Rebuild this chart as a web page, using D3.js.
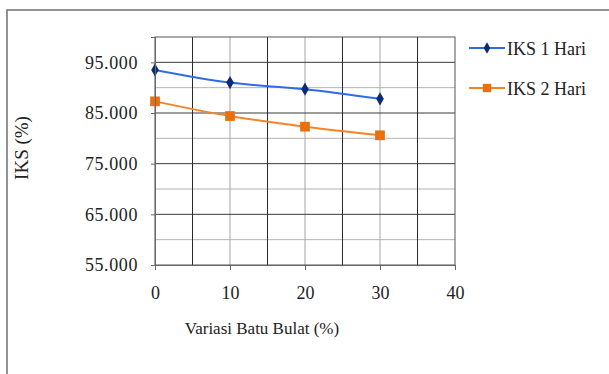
<!DOCTYPE html>
<html>
<head>
<meta charset="utf-8">
<script src="https://cdn.jsdelivr.net/npm/d3@7"></script>
</head>
<body style="margin:0;background:#fff">
<svg id="chart" width="609" height="374" font-family="serif"></svg>
<script>
// data
const variasi = [0, 10, 20, 30];
const iks1Hari = [93.5, 91.0, 89.7, 87.8];
const iks2Hari = [87.3, 84.4, 82.3, 80.6];
const yTicks = [55, 65, 75, 85, 95];
const xTicks = [0, 10, 20, 30, 40];

const FONT = "'Times New Roman', Tinos, 'Liberation Serif', serif";

const series = [
  { name: "IKS 1 Hari", values: iks1Hari, line: "#2f6be8", marker: "#0b2a7a", shape: d3.symbolDiamond, size: 50 },
  { name: "IKS 2 Hari", values: iks2Hari, line: "#f58426", marker: "#e8700f", shape: d3.symbolSquare, size: 95 }
];

const svg = d3.select("#chart");

// outer frame (only top and left edges fall inside the picture)
svg.append("rect")
  .attr("x", 7).attr("y", 10)
  .attr("width", 640).attr("height", 400)
  .style("fill", "none").style("stroke", "#707070").style("stroke-width", 1.5);

const x = d3.scaleLinear().domain([0, 40]).range([155, 455]);
const y = d3.scaleLinear().domain([55, 100]).range([265, 37]);

const plot = svg.append("g");

// grid - light lines
plot.selectAll(".hminor").data([60, 70, 80, 90]).join("line")
  .attr("x1", x(0)).attr("x2", x(40))
  .attr("y1", d => y(d)).attr("y2", d => y(d))
  .style("stroke", "#b4b4b4").style("stroke-width", 1);
plot.selectAll(".vminor").data([10, 20, 30]).join("line")
  .attr("x1", d => x(d)).attr("x2", d => x(d))
  .attr("y1", y(55)).attr("y2", y(100))
  .style("stroke", "#a4a4a4").style("stroke-width", 1);

// grid - dark lines
plot.selectAll(".hmajor").data([65, 75, 85, 95]).join("line")
  .attr("x1", x(0)).attr("x2", x(40))
  .attr("y1", d => y(d)).attr("y2", d => y(d))
  .style("stroke", "#3a3a3a").style("stroke-width", 1);
plot.selectAll(".vmajor").data([5, 15, 25, 35]).join("line")
  .attr("x1", d => x(d)).attr("x2", d => x(d))
  .attr("y1", y(55)).attr("y2", y(100))
  .style("stroke", "#2a2a2a").style("stroke-width", 1);

// plot border
plot.append("rect")
  .attr("x", x(0)).attr("y", y(100))
  .attr("width", x(40) - x(0)).attr("height", y(55) - y(100))
  .style("fill", "none").style("stroke", "#555").style("stroke-width", 1);

// axes
const yAxis = d3.axisLeft(y).tickValues(yTicks).tickSize(4).tickPadding(13)
  .tickFormat(d => d3.format(".3f")(d));
const gy = svg.append("g").attr("transform", `translate(${x(0)},0)`).call(yAxis)
  .attr("font-family", FONT).attr("font-size", 18);
gy.select(".domain").style("stroke", "#666");
gy.selectAll(".tick line").style("stroke", "#666");
gy.selectAll("text").attr("fill", "#222").attr("letter-spacing", 0.6);

const xAxis = d3.axisBottom(x).tickValues(xTicks).tickSize(5).tickPadding(16);
const gx = svg.append("g").attr("transform", `translate(0,${y(55)})`).call(xAxis)
  .attr("font-family", FONT).attr("font-size", 18);
gx.select(".domain").style("stroke", "#666");
gx.selectAll(".tick line").style("stroke", "#666");
gx.selectAll("text").attr("fill", "#222");

// axis titles
svg.append("text")
  .attr("transform", `translate(28,148) rotate(-90)`)
  .attr("text-anchor", "middle")
  .attr("font-family", FONT).attr("font-size", 19).attr("fill", "#222")
  .text("IKS (%)");

svg.append("text")
  .attr("x", 262).attr("y", 334)
  .attr("text-anchor", "middle")
  .attr("font-family", FONT).attr("font-size", 17).attr("fill", "#222")
  .text("Variasi Batu Bulat (%)");

// series
const line = d3.line()
  .x((d, i) => x(variasi[i]))
  .y(d => y(d))
  .curve(d3.curveMonotoneX);

series.forEach(s => {
  plot.append("path")
    .attr("d", line(s.values))
    .style("fill", "none")
    .style("stroke", s.line)
    .style("stroke-width", 2);

  plot.selectAll(null).data(s.values).join("path")
    .attr("transform", (d, i) => `translate(${x(variasi[i])},${y(d)})`)
    .attr("d", d3.symbol().type(s.shape).size(s.size))
    .style("fill", s.marker);
});

// legend
const legend = svg.append("g");
series.forEach((s, i) => {
  const ly = 48 + i * 40;
  legend.append("line")
    .attr("x1", 469).attr("x2", 505)
    .attr("y1", ly).attr("y2", ly)
    .style("stroke", s.line).style("stroke-width", 2);
  legend.append("path")
    .attr("transform", `translate(487,${ly})`)
    .attr("d", d3.symbol().type(s.shape).size(s.size * 0.75))
    .style("fill", s.marker);
  legend.append("text")
    .attr("x", 507).attr("y", ly + 6.5)
    .attr("font-family", FONT).attr("font-size", 18).attr("fill", "#222")
    .text(s.name);
});
</script>
</body>
</html>
